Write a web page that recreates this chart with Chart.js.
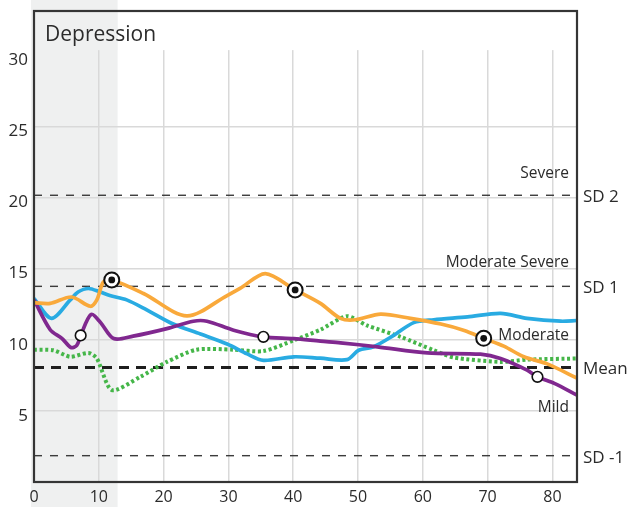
<!DOCTYPE html>
<html>
<head>
<meta charset="utf-8">
<script src="https://cdn.jsdelivr.net/npm/chart.js@4.4.1/dist/chart.umd.min.js"></script>
<style>
  html, body { margin: 0; padding: 0; background: #fff; }
  #wrap { width: 628px; height: 507px; }
</style>
</head>
<body>
<div id="wrap"><canvas id="chart" width="628" height="507"></canvas></div>
<script>
// Depression score over age — four trajectories with SD reference bands
const xTickLabels = [0, 10, 20, 30, 40, 50, 60, 70, 80];
const yTickLabels = [5, 10, 15, 20, 25, 30];
const shadedAges = [0, 12.9];

const orangeX = [0, 2.5, 5.8, 8.7, 9.7, 10.7, 12.0, 16.9, 23.6, 29.8, 31.8, 35.7, 40.3, 44.2, 47.3, 49.6, 53.5, 58.1, 62.8, 66.4, 69.4, 72.5, 75.6, 79.2, 83.8];
const orangeY = [12.6, 12.55, 13.0, 12.35, 12.8, 14.05, 14.2, 13.25, 11.67, 13.1, 13.6, 14.65, 13.5, 12.55, 11.5, 11.4, 11.8, 11.5, 11.1, 10.65, 10.1, 9.55, 8.8, 8.3, 7.3];

const blueX = [0, 2.7, 5.6, 6.8, 8.4, 10.2, 11.7, 14.3, 17.4, 21.5, 25.7, 29.8, 32.9, 35.4, 40.1, 44.2, 48.3, 50.1, 52.4, 55.5, 58.6, 61.7, 66.9, 72.0, 76.1, 81.3, 83.8];
const blueY = [12.9, 11.5, 12.8, 13.35, 13.6, 13.35, 13.1, 12.8, 12.1, 11.1, 10.4, 9.7, 9.0, 8.55, 8.8, 8.7, 8.6, 9.26, 9.5, 10.3, 11.2, 11.4, 11.6, 11.85, 11.5, 11.3, 11.35];

const purpleX = [0, 2.5, 4.3, 5.7, 6.6, 7.2, 8.8, 10.2, 12.3, 15.3, 20.5, 24.6, 26.7, 30.8, 35.4, 40.1, 44.2, 47.3, 53.0, 60.7, 68.9, 72.0, 76.1, 77.7, 80.3, 83.8];
const purpleY = [12.8, 10.7, 10.1, 9.45, 9.6, 10.3, 11.77, 11.25, 10.08, 10.25, 10.78, 11.3, 11.3, 10.67, 10.2, 10.08, 9.9, 9.78, 9.5, 9.07, 8.98, 8.68, 7.86, 7.39, 6.93, 6.1];

const greenX = [0, 3.0, 5.6, 8.4, 9.7, 12.0, 16.4, 20.5, 25.1, 30.8, 35.4, 40.1, 44.2, 48.3, 51.4, 56.6, 61.7, 64.8, 72.0, 76.1, 83.8];
const greenY = [9.3, 9.26, 8.8, 9.07, 8.68, 6.46, 7.39, 8.44, 9.3, 9.3, 9.2, 9.96, 10.7, 11.65, 11.0, 10.2, 9.26, 8.75, 8.44, 8.6, 8.68];

// markers sitting on the orange (target) and purple (open) curves
const targetX = [12.0, 40.3, 69.4];
const targetY = [14.2, 13.5, 10.1];
const openX = [7.2, 35.4, 77.7];
const openY = [10.3, 10.2, 7.39];

// reference levels: SD 2, SD 1, Mean, SD -1
const refNames = ['SD 2', 'SD 1', 'Mean', 'SD -1'];
const refLevels = [20.15, 13.75, 8.05, 1.85];
const zoneNames = ['Severe', 'Moderate Severe', 'Moderate', 'Mild'];

const X_MIN = 0, X_MAX = 83.8, Y_MIN = 0, Y_MAX = 33.1;
const FONT = '"Open Sans", "DejaVu Sans", sans-serif';
const INK = '#2b2b2b';
const BAND = '#eff0f0';

const pts = (xs, ys) => xs.map((x, i) => ({ x, y: ys[i] }));

function seriesDs(xs, ys, color, order, extra) {
  return Object.assign({
    type: 'line', data: pts(xs, ys), borderColor: color, borderWidth: 3.7,
    pointRadius: 0, tension: 0.3, fill: false, order,
  }, extra || {});
}

const refDatasets = refLevels.map((v, i) => ({
  type: 'line',
  data: [{ x: X_MIN, y: v }, { x: X_MAX, y: v }],
  borderColor: refNames[i] === 'Mean' ? '#1e1e1e' : '#3c3c3c',
  borderWidth: refNames[i] === 'Mean' ? 3 : 1.4,
  borderDash: refNames[i] === 'Mean' ? [10, 7] : [8, 8],
  pointRadius: 0, order: 20,
}));

// grey shading, top white strip (grid ends just above 30), title
const backdrop = {
  id: 'backdrop',
  beforeDraw(chart) {
    const { ctx, scales: { x } } = chart;
    const l = x.getPixelForValue(shadedAges[0]) - 3;
    const r = x.getPixelForValue(shadedAges[1]);
    ctx.save();
    ctx.fillStyle = BAND;
    ctx.fillRect(l, 0, r - l, chart.height);
    ctx.restore();
  },
  beforeDatasetsDraw(chart) {
    const { ctx, chartArea: a, scales: { x, y } } = chart;
    const stop = y.getPixelForValue(30) - 5;
    const r = x.getPixelForValue(shadedAges[1]);
    ctx.save();
    ctx.fillStyle = '#fff';
    ctx.fillRect(r, a.top, a.right - r, stop - a.top);
    ctx.fillStyle = BAND;
    ctx.fillRect(a.left, a.top, r - a.left, stop - a.top);
    ctx.fillStyle = INK;
    ctx.font = '21px ' + FONT;
    ctx.textBaseline = 'alphabetic';
    ctx.fillText('Depression', a.left + 11, a.top + 30);
    ctx.restore();
  },
  afterDraw(chart) {
    const { ctx, chartArea: a, scales: { y } } = chart;
    ctx.save();
    ctx.strokeStyle = '#353535';
    ctx.lineWidth = 2.2;
    ctx.strokeRect(a.left, a.top, a.right - a.left, a.bottom - a.top);
    ctx.fillStyle = INK;
    ctx.textBaseline = 'middle';
    ctx.font = '17px ' + FONT;
    refLevels.forEach((v, i) => {
      ctx.fillText(refNames[i], a.right + 6, y.getPixelForValue(v) + 2);
    });
    ctx.font = '15.5px ' + FONT;
    ctx.textAlign = 'right';
    const zoneY = [21.8, 15.55, 10.45, 5.4];
    zoneNames.forEach((n, i) => ctx.fillText(n, a.right - 8, y.getPixelForValue(zoneY[i]) + 2));
    ctx.restore();
  },
};

new Chart(document.getElementById('chart'), {
  data: {
    datasets: [
      { type: 'scatter', data: pts(targetX, targetY), pointRadius: 3.4, pointBackgroundColor: '#111', pointBorderWidth: 0, order: 0 },
      { type: 'scatter', data: pts(targetX, targetY), pointRadius: 7.5, pointBackgroundColor: '#fff', pointBorderColor: '#111', pointBorderWidth: 2, order: 1 },
      { type: 'scatter', data: pts(openX, openY), pointRadius: 5.3, pointBackgroundColor: '#fff', pointBorderColor: '#111', pointBorderWidth: 1.6, order: 1 },
      seriesDs(orangeX, orangeY, '#f9a93b', 2),
      seriesDs(purpleX, purpleY, '#80288f', 3),
      seriesDs(blueX, blueY, '#29abe2', 4),
      seriesDs(greenX, greenY, '#45b649', 5, { borderWidth: 4, borderDash: [3, 2.6], tension: 0.25 }),
      ...refDatasets,
    ],
  },
  options: {
    responsive: false, animation: false,
    layout: { padding: { top: 11, right: 51, left: 0, bottom: 0 } },
    plugins: { legend: { display: false }, tooltip: { enabled: false } },
    scales: {
      x: {
        type: 'linear', min: X_MIN, max: X_MAX,
        afterFit: (s) => { s.height = 25; s.paddingLeft = 0; s.paddingRight = 0; },
        border: { display: false },
        grid: {
          drawTicks: false, lineWidth: 1.5,
          color: (c) => (c.tick && c.tick.value > 0 && xTickLabels.includes(c.tick.value) ? '#d9d9d9' : 'rgba(0,0,0,0)'),
        },
        ticks: {
          stepSize: 10, includeBounds: false, padding: 6, color: INK, font: { family: FONT, size: 16 },
          callback: (v) => (xTickLabels.includes(v) ? String(v) : null),
        },
      },
      y: {
        type: 'linear', min: Y_MIN, max: Y_MAX,
        afterFit: (s) => { s.width = 34; s.paddingTop = 0; s.paddingBottom = 0; },
        border: { display: false },
        grid: {
          drawTicks: false, lineWidth: 1.5,
          color: (c) => (c.tick && c.tick.value > 0 && c.tick.value < 30 ? '#d9d9d9' : 'rgba(0,0,0,0)'),
        },
        ticks: {
          stepSize: 5, includeBounds: false, padding: 6, labelOffset: 5, color: INK, font: { family: FONT, size: 17 },
          callback: (v) => (yTickLabels.includes(v) ? String(v) : null),
        },
      },
    },
  },
  plugins: [backdrop],
});
</script>
</body>
</html>
